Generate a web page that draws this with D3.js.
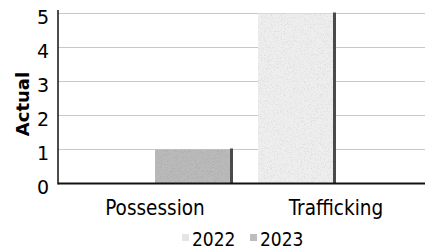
<!DOCTYPE html>
<html><head><meta charset="utf-8">
<script src="https://cdn.jsdelivr.net/npm/d3@7"></script>
<style>html,body{margin:0;padding:0;background:#fff;}svg{display:block;}</style>
</head><body><svg id="c" width="425" height="251"></svg>
<script>
const categories = ["Possession", "Trafficking"];
const years = ["2022", "2023"];
const values2022 = [0, 5];
const values2023 = [1, 0];
const yTicks = [0, 1, 2, 3, 4, 5];
const yLabel = "Actual";

(function () {
const svg = d3.select("#c");
const mLeft = 58, mRight = 420, mTop = 13.5, mBottom = 183.5;
const y = d3.scaleLinear().domain([0, 5]).range([mBottom, mTop]);
const x0 = d3.scaleBand().domain(categories).range([mLeft, mRight]);
const x1 = d3.scaleBand().domain(years).range([19, x0.bandwidth() - 6]);
const colors = {"2022": "#eeeeee", "2023": "#bababa"};

const defs = svg.append("defs");
const f = defs.append("filter").attr("id", "grain").attr("x", 0).attr("y", 0).attr("width", 1).attr("height", 1);
f.append("feTurbulence").attr("type", "fractalNoise").attr("baseFrequency", 1.3).attr("numOctaves", 1).attr("seed", 3).attr("result", "n");
f.append("feColorMatrix").attr("in", "n").attr("type", "matrix")
  .attr("values", "0 0 0 0 0  0 0 0 0 0  0 0 0 0 0  0 0 0 -0.6 0.3").attr("result", "m");
f.append("feComposite").attr("in", "m").attr("in2", "SourceGraphic").attr("operator", "in").attr("result", "g");
f.append("feMerge").selectAll("feMergeNode").data(["SourceGraphic", "g"]).join("feMergeNode").attr("in", d => d);

// gridlines
svg.append("g").selectAll("line").data(yTicks.filter(d => d > 0)).join("line")
  .attr("x1", mLeft).attr("x2", 425).attr("y1", d => y(d)).attr("y2", d => y(d))
  .attr("stroke", "#c8c8c8").attr("stroke-width", 1);

// bars
const rows = [];
categories.forEach((c, i) => {
  rows.push({cat: c, year: "2022", v: values2022[i]});
  rows.push({cat: c, year: "2023", v: values2023[i]});
});
const bars = svg.append("g").selectAll("g").data(rows.filter(d => d.v > 0)).join("g");
bars.append("rect")
  .attr("x", d => x0(d.cat) + x1(d.year))
  .attr("y", d => y(d.v))
  .attr("width", x1.bandwidth() - 3)
  .attr("height", d => y(0) - y(d.v))
  .attr("fill", d => colors[d.year])
  .attr("filter", "url(#grain)");
bars.append("rect")
  .attr("x", d => x0(d.cat) + x1(d.year) + x1.bandwidth() - 3)
  .attr("y", d => y(d.v) - 1)
  .attr("width", 3)
  .attr("height", d => y(0) - y(d.v) + 1)
  .attr("fill", "#4a4a4a");

// axes lines
svg.append("line").attr("x1", mLeft).attr("x2", mLeft).attr("y1", 10).attr("y2", mBottom + 1)
  .attr("stroke", "#111").attr("stroke-width", 1.5);
svg.append("line").attr("x1", mLeft).attr("x2", 425).attr("y1", mBottom).attr("y2", mBottom)
  .attr("stroke", "#111").attr("stroke-width", 2);

// y tick labels
svg.append("g").selectAll("text").data(yTicks).join("text")
  .attr("x", 49).attr("y", d => y(d) + 4).attr("dy", "0.35em")
  .attr("text-anchor", "end")
  .attr("font-family", "DejaVu Sans").attr("font-size", 19).attr("fill", "#000")
  .text(d => d);

// y label
svg.append("text")
  .attr("transform", "translate(23,104) rotate(-90)")
  .attr("text-anchor", "middle").attr("dy", "0.35em")
  .attr("font-family", "DejaVu Sans").attr("font-weight", "bold").attr("font-size", 18).attr("fill", "#000")
  .text(yLabel);

// category labels
svg.append("g").selectAll("text").data(categories).join("text")
  .attr("x", d => x0(d) + (x1("2022") + x1("2023") + x1.bandwidth()) / 2)
  .attr("y", 215)
  .attr("text-anchor", "middle")
  .attr("font-family", "'DejaVu Sans Condensed', 'DejaVu Sans'").attr("font-size", 20.5).attr("fill", "#000")
  .text(d => d);

// legend
const legendX = [182, 250];
const lg = svg.append("g").selectAll("g").data(years).join("g")
  .attr("transform", (d, i) => `translate(${legendX[i]},0)`);
lg.append("rect").attr("x", 0).attr("y", 234).attr("width", 7).attr("height", 7)
  .attr("fill", d => d === "2022" ? "#e4e4e4" : "#bdbdbd");
lg.append("text").attr("x", 10).attr("y", 246)
  .attr("font-family", "'DejaVu Sans Condensed', 'DejaVu Sans'").attr("font-size", 19).attr("fill", "#000")
  .text(d => d);
})();
</script></body></html>
